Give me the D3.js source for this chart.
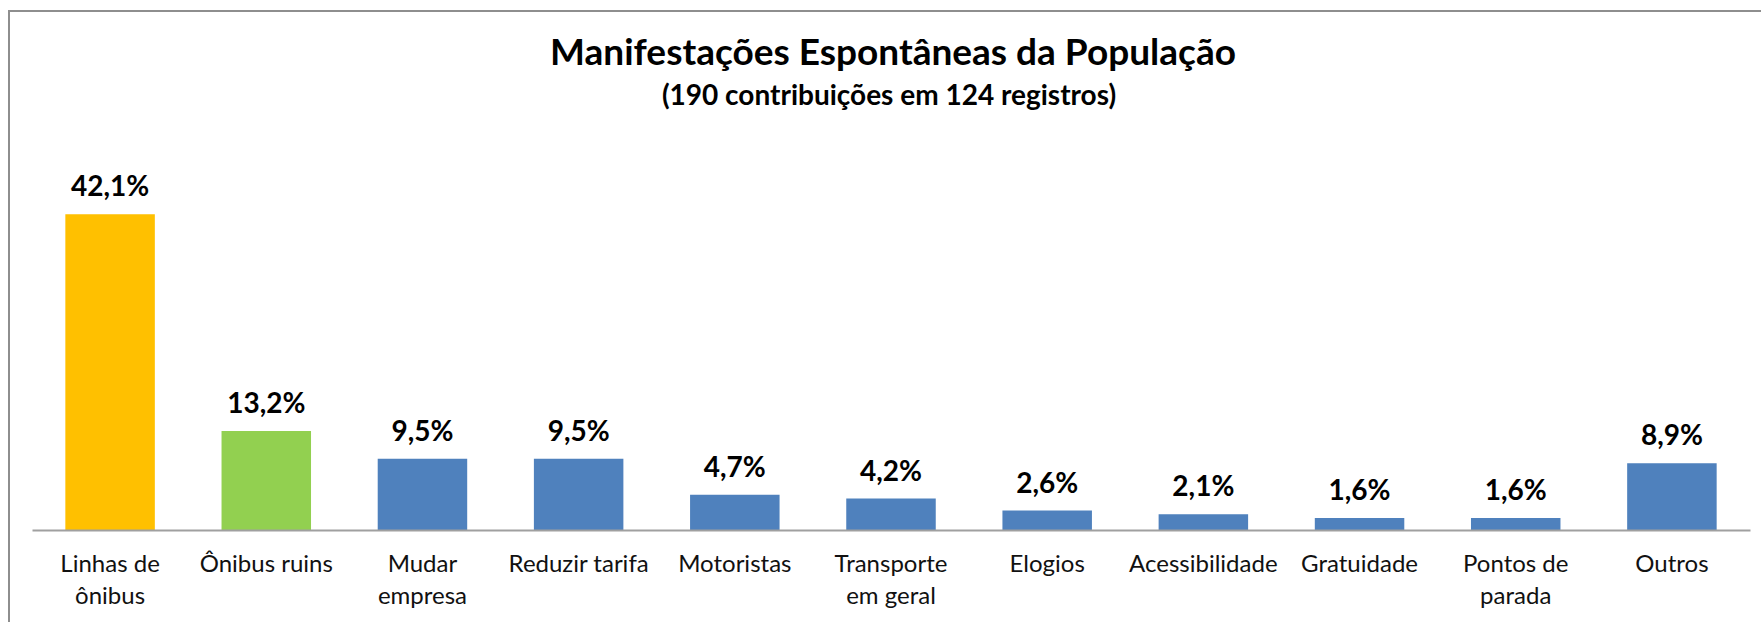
<!DOCTYPE html>
<html>
<head>
<meta charset="utf-8">
<script src="https://cdn.jsdelivr.net/npm/d3@7"></script>
<style>
  html, body { margin: 0; padding: 0; background: #fff; }
  svg { display: block; }
</style>
</head>
<body>
<svg id="chart" width="1761" height="622"></svg>
<script>
const categories = ["Linhas de\nônibus", "Ônibus ruins", "Mudar\nempresa", "Reduzir tarifa", "Motoristas",
  "Transporte\nem geral", "Elogios", "Acessibilidade", "Gratuidade", "Pontos de\nparada", "Outros"];
const values = [42.1, 13.2, 9.5, 9.5, 4.7, 4.2, 2.6, 2.1, 1.6, 1.6, 8.9];
const valueLabels = ["42,1%", "13,2%", "9,5%", "9,5%", "4,7%", "4,2%", "2,6%", "2,1%", "1,6%", "1,6%", "8,9%"];
const title = "Manifestações Espontâneas da População";
const subtitle = "(190 contribuições em 124 registros)";

const barColors = ["#FFC000", "#92D050", "#4F81BD", "#4F81BD", "#4F81BD", "#4F81BD",
  "#4F81BD", "#4F81BD", "#4F81BD", "#4F81BD", "#4F81BD"];
const FONT = "Lato, 'Open Sans', sans-serif";

const svg = d3.select("#chart");

// outer chart border (extends past right/bottom edges)
svg.append("rect")
  .attr("x", 9).attr("y", 11)
  .attr("width", 1800).attr("height", 700)
  .attr("fill", "#fff")
  .attr("stroke", "#8e8e8e")
  .attr("stroke-width", 2);

const x = d3.scaleBand()
  .domain(categories)
  .range([32, 1750])
  .paddingInner(0.427)
  .paddingOuter(0.2135);

const y = d3.scaleLinear()
  .domain([0, 45])
  .range([530, 192.5]);

// title
svg.append("text")
  .attr("x", 893).attr("y", 65)
  .attr("text-anchor", "middle")
  .attr("font-family", FONT)
  .attr("font-weight", "bold")
  .attr("font-size", 37)
  .attr("fill", "#000")
  .text(title);

svg.append("text")
  .attr("x", 889).attr("y", 105)
  .attr("text-anchor", "middle")
  .attr("font-family", FONT)
  .attr("font-weight", "bold")
  .attr("font-size", 28)
  .attr("fill", "#000")
  .text(subtitle);

// bars
svg.append("g").selectAll("rect")
  .data(values)
  .join("rect")
  .attr("x", (d, i) => x(categories[i]))
  .attr("y", d => y(d))
  .attr("width", x.bandwidth())
  .attr("height", d => y(0) - y(d))
  .attr("fill", (d, i) => barColors[i]);

// value labels
svg.append("g").selectAll("text")
  .data(values)
  .join("text")
  .attr("x", (d, i) => x(categories[i]) + x.bandwidth() / 2)
  .attr("y", d => y(d) - 18)
  .attr("text-anchor", "middle")
  .attr("font-family", FONT)
  .attr("font-weight", "bold")
  .attr("font-size", 28)
  .attr("fill", "#000")
  .text((d, i) => valueLabels[i]);

// x axis
const axis = svg.append("g")
  .attr("transform", `translate(0, ${y(0)})`)
  .call(d3.axisBottom(x).tickSize(0).tickPadding(0));

axis.select(".domain")
  .attr("stroke", "#a0a0a0")
  .attr("stroke-width", 2);

axis.selectAll(".tick text").each(function(d) {
  const t = d3.select(this);
  t.text(null)
    .attr("y", 0)
    .attr("dy", null)
    .attr("font-family", FONT)
    .attr("font-size", 24)
    .attr("fill", "#111");
  d.split("\n").forEach((line, k) => {
    t.append("tspan")
      .attr("x", 0)
      .attr("y", 42 + k * 32)
      .text(line);
  });
});
</script>
</body>
</html>
